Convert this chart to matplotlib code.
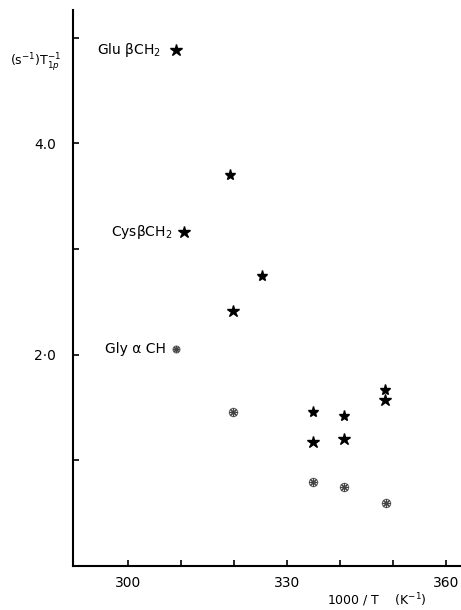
import matplotlib
from matplotlib import pyplot as plt

matplotlib.use('Agg')

# 1000/T values and relaxation rates
glu_x = [319.2, 325.3, 334.9, 340.8, 348.5]
glu_y = [3.70, 2.74, 1.46, 1.42, 1.67]
cys_x = [319.8, 334.9, 340.8, 348.5]
cys_y = [2.41, 1.17, 1.20, 1.57]
gly_x = [319.8, 334.9, 340.8, 348.7]
gly_y = [1.46, 0.80, 0.75, 0.60]

x_ticks = [300, 310, 320, 330, 340, 350, 360]
x_labels = ['300', '', '', '330', '', '', '360']
y_ticks = [1.0, 2.0, 3.0, 4.0, 5.0]
y_labels = ['', '2·0', '', '4.0', '']

fig = plt.figure(figsize=(4.61, 6.10), dpi=100)
ax = fig.add_axes([0.158, 0.072, 0.842, 0.9115])

ax.plot(glu_x, glu_y, ls='none', marker='*', ms=8, color='black')
ax.plot(cys_x, cys_y, ls='none', marker='*', ms=9, color='black')
ax.plot(gly_x, gly_y, ls='none', marker='o', ms=6, mfc='none', mec='#666666', mew=0.8)
ax.plot(gly_x, gly_y, ls='none', marker=(8, 2, 0), ms=6, color='#444444', mew=0.8)

ax.set_xlim(289.6, 362.8)
ax.set_ylim(0, 5.26)
ax.set_xticks(x_ticks)
ax.set_xticklabels(x_labels, fontsize=10)
ax.set_yticks(y_ticks)
ax.set_yticklabels(y_labels, fontsize=10)
ax.tick_params(direction='in', length=4, width=1.2, pad=7)
ax.tick_params(axis='y', pad=12)
for side in ['top', 'right']:
    ax.spines[side].set_visible(False)
for side in ['left', 'bottom']:
    ax.spines[side].set_linewidth(1.5)

# labels for the series
ax.text(294.2, 4.88, 'Glu βCH$_2$', fontsize=10, va='center')
ax.plot([309.0], [4.88], ls='none', marker='*', ms=9, color='black')
ax.text(296.8, 3.16, 'CysβCH$_2$', fontsize=10, va='center')
ax.plot([310.6], [3.16], ls='none', marker='*', ms=9, color='black')
ax.text(295.7, 2.05, 'Gly α CH', fontsize=10, va='center')
ax.plot([309.0], [2.05], ls='none', marker='o', ms=5, mfc='none', mec='#666666', mew=0.8)
ax.plot([309.0], [2.05], ls='none', marker=(8, 2, 0), ms=5, color='#444444', mew=0.8)

fig.text(10 / 461, 1 - 62 / 610, r'(s$^{-1}$)T$_{1p}^{-1}$', fontsize=9, va='center')
fig.text(327 / 461, 1 - 600 / 610, r'1000 / T    (K$^{-1}$)', fontsize=9, va='center')

plt.savefig('out.png', format='png')
plt.clf()
